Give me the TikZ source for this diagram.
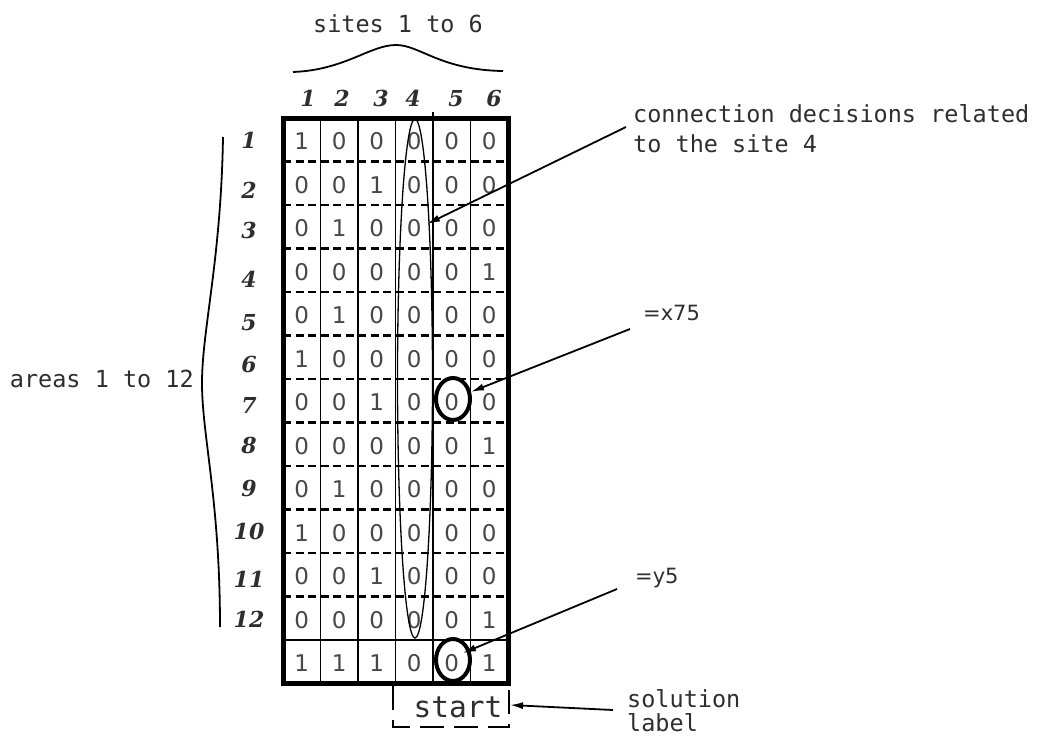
\documentclass[tikz,border=0pt]{standalone}
\usepackage{fontspec}
\usetikzlibrary{arrows.meta,shapes.geometric}
\newfontfamily\monofont{DejaVu Sans Mono}
\newfontfamily\cellfont{DejaVu Sans}
\newfontfamily\hdrfamily{DejaVu Serif}
\newcommand\hdrfont{\hdrfamily\fontsize{22}{26}\selectfont\bfseries\itshape}
\definecolor{textc}{gray}{0.18}
\definecolor{cellc}{gray}{0.28}
\tikzset{
  cell/.style={font=\cellfont\fontsize{23}{23}\selectfont, text=cellc, anchor=base, inner sep=0pt},
  hdr/.style={font=\hdrfont, text=textc, anchor=base, inner sep=0pt},
  lbl/.style={font=\monofont\fontsize{23.5}{28}\selectfont, text=textc, inner sep=0pt},
  lbls/.style={font=\cellfont\fontsize{21}{26}\selectfont, text=textc, inner sep=0pt},
  arr/.style={line width=1.8pt, -{Latex[length=13pt,width=7pt]}},
  selcirc/.style={draw, ellipse, line width=4pt, minimum width=34pt, minimum height=42pt, inner sep=0pt},
  gridthin/.style={line width=1.2pt},
  griddash/.style={line width=2.4pt, dash pattern=on 8pt off 4.5pt},
}
\begin{document}
\begin{tikzpicture}[x=1pt,y=-1pt]
\useasboundingbox (0,0) rectangle (1045,737);

% cell values
\foreach \rowvals [count=\r] in {
  {1,0,0,0,0,0},{0,0,1,0,0,0},{0,1,0,0,0,0},{0,0,0,0,0,1},
  {0,1,0,0,0,0},{1,0,0,0,0,0},{0,0,1,0,0,0},{0,0,0,0,0,1},
  {0,1,0,0,0,0},{1,0,0,0,0,0},{0,0,1,0,0,0},{0,0,0,0,0,1},
  {1,1,1,0,0,1}}{
  \foreach \v [count=\c] in \rowvals {
    \node[cell] (c-\r-\c) at ({283+37.5*(\c-0.5)},{118+43.5*(\r-0.5)+10}) {\v};
  }
}

% grid lines
\foreach \k in {1,2,3,5} {
  \draw[gridthin] ({283+37.5*\k},118) -- ({283+37.5*\k},683.5);
}
\draw[gridthin] ({283+37.5*4},112) -- ({283+37.5*4},683.5);
\foreach \k in {1,...,11} {
  \draw[griddash] (283,{118+43.5*\k}) -- (508,{118+43.5*\k});
}
\draw[line width=2pt] (283,640) -- (508,640);
\draw[line width=5pt] (283,118) rectangle (508,683.5);

% ellipse around site 4
\draw[line width=1.3pt] (415,378.5) ellipse [x radius=17.5, y radius=259.5];

% column headers
\foreach \x [count=\i] in {308,342,381,413,456,494} {
  \node[hdr] (col-\i) at (\x,106) {\i};
}
% row headers
\foreach \yb [count=\i] in {148,198,238,287,330,372,413,453,496,539,587,627} {
  \node[hdr] (row-\i) at (249,\yb) {\i};
}

% top brace
\draw[line width=1.8pt] (293,72) .. controls (345,70) and (370,45) .. (396,45)
  .. controls (420,45) and (440,70) .. (503,71);
\node[lbl, anchor=base] (sites) at (398,32) {sites 1 to 6};

% left brace
\draw[line width=1.8pt] (223,137) .. controls (221,260) and (202,330) .. (202,383)
  .. controls (202,436) and (220,500) .. (220,627);
\node[lbl, anchor=base east] (areas) at (194,387) {areas 1 to 12};

% selected cells
\node[selcirc] (sel1) at (453,399) {};
\node[selcirc] (sel2) at (453,660) {};

% annotation: connection decisions
\node[lbl, anchor=base west] (conn1) at (633,122) {connection decisions related};
\node[lbl, anchor=base west] (conn2) at (633,152) {to the site 4};
\coordinate (a1s) at ([xshift=-7pt,yshift=-5pt]conn1.base west);
\coordinate (a1e) at (427,224);
\draw[arr] (a1s) -- (a1e);

% =x75
\node[lbls, anchor=base west] (x75) at (643,320) {=x75};
\coordinate (a2s) at ([xshift=-13pt,yshift=-9pt]x75.base west);
\draw[arr] (a2s) -- (sel1);

% =y5
\node[lbls, anchor=base west] (y5) at (635,583) {=y5};
\coordinate (a3s) at ([xshift=-18pt,yshift=-6pt]y5.base west);
\coordinate (a3e) at (463,653);
\draw[arr] (a3s) -- (a3e);

% start box
\draw[line width=2pt, dash pattern=on 24pt off 10pt] (393,686) -- (393,727) -- (509,727) -- (509,686);
\node[lbl, font=\monofont\fontsize{29.5}{30}\selectfont, anchor=base] (start) at (458,717) {start};
\coordinate (boxr) at (510,705);

% solution label
\node[lbl, anchor=base west] (sol1) at (627,707) {solution};
\node[lbl, anchor=base west] (sol2) at (627,731) {label};
\coordinate (a4s) at ([xshift=-14pt,yshift=-3pt]sol1.base west);
\draw[arr] (a4s) -- (boxr);
\end{tikzpicture}
\end{document}
